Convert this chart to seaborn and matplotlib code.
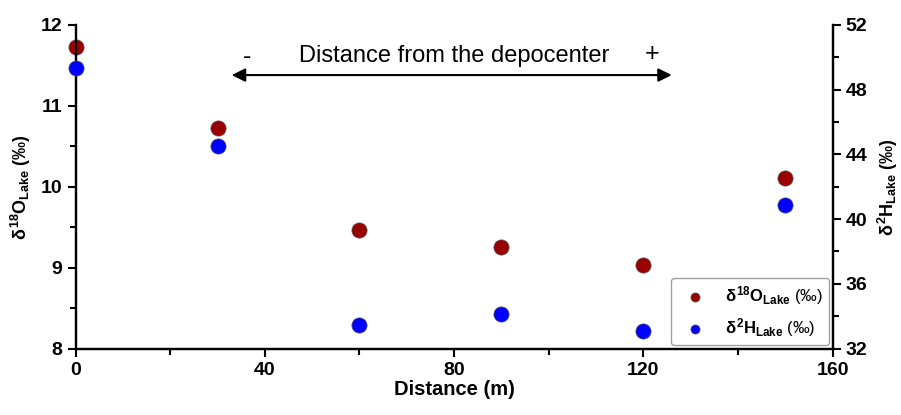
import matplotlib
matplotlib.use('Agg')
import matplotlib.pyplot as plt
from matplotlib.ticker import MultipleLocator
import seaborn as sns

distance = [0, 30, 60, 90, 120, 150]
d18o_lake = [11.73, 10.73, 9.46, 9.26, 9.03, 10.11]
d2h_lake = [49.35, 44.5, 33.45, 34.15, 33.1, 40.9]

sns.set_style('white')
plt.rcParams['font.family'] = ['Liberation Sans', 'DejaVu Sans']
plt.rcParams['text.color'] = 'black'
plt.rcParams['axes.labelcolor'] = 'black'
plt.rcParams['xtick.color'] = 'black'
plt.rcParams['ytick.color'] = 'black'
plt.rcParams['mathtext.fontset'] = 'custom'
plt.rcParams['mathtext.rm'] = 'Liberation Sans:bold'
plt.rcParams['mathtext.it'] = 'Liberation Sans:bold'
plt.rcParams['mathtext.bf'] = 'Liberation Sans:bold'

red = '#990000'
blue = '#0000ff'

fig, ax = plt.subplots(figsize=(9.01, 4.15), dpi=100)
fig.subplots_adjust(left=0.084, right=0.924, top=0.94, bottom=0.16)
ax2 = ax.twinx()

sns.scatterplot(x=distance, y=d18o_lake, ax=ax, color=red, s=120,
                edgecolor='#555555', linewidth=0.5, clip_on=False, zorder=5,
                label=r'$\delta^{18}O_{Lake}$ (‰)', legend=False)
sns.scatterplot(x=distance, y=d2h_lake, ax=ax2, color=blue, s=120,
                edgecolor='#555555', linewidth=0.5, clip_on=False, zorder=5,
                label=r'$\delta^{2}H_{Lake}$ (‰)', legend=False)

ax.set_xlim(0, 160)
ax.set_ylim(8, 12)
ax2.set_ylim(32, 52)

ax.xaxis.set_major_locator(MultipleLocator(40))
ax.xaxis.set_minor_locator(MultipleLocator(20))
ax.yaxis.set_major_locator(MultipleLocator(1))
ax.yaxis.set_minor_locator(MultipleLocator(0.5))
ax2.yaxis.set_major_locator(MultipleLocator(4))
ax2.yaxis.set_minor_locator(MultipleLocator(2))

for a in (ax, ax2):
    for side in ['left', 'right', 'bottom']:
        a.spines[side].set_linewidth(1.6)
        a.spines[side].set_color('black')
    a.spines['top'].set_visible(False)
    a.tick_params(which='major', direction='out', length=6, width=1.5,
                  labelsize=14, color='black', labelcolor='black')
    a.tick_params(which='minor', direction='out', length=4, width=1.5,
                  color='black')
    for lbl in a.get_xticklabels() + a.get_yticklabels():
        lbl.set_fontweight('bold')
ax.tick_params(axis='x', which='both', bottom=True)
ax.tick_params(axis='y', which='both', left=True)
ax2.tick_params(axis='y', which='both', right=True)

ax.set_xlabel('Distance (m)', fontsize=14.5, fontweight='bold', labelpad=1)
ax.set_ylabel(r'$\delta^{18}O_{Lake}$ (‰)', fontsize=13, fontweight='bold', labelpad=6)
ax2.set_ylabel(r'$\delta^{2}H_{Lake}$ (‰)', fontsize=13, fontweight='bold',
               rotation=90, labelpad=6)

# depocenter arrow annotation
ax.annotate('', xy=(33, 11.38), xytext=(126, 11.38),
            arrowprops=dict(arrowstyle='<|-|>', color='black', lw=1.5,
                            mutation_scale=20, shrinkA=0, shrinkB=0))
ax.text(80, 11.62, 'Distance from the depocenter', ha='center', va='center',
        fontsize=17)
ax.text(36.2, 11.6, '-', ha='center', va='center', fontsize=18)
ax.text(121.9, 11.64, '+', ha='center', va='center', fontsize=18)

h1, l1 = ax.get_legend_handles_labels()
h2, l2 = ax2.get_legend_handles_labels()
leg = ax2.legend(h1 + h2, l1 + l2, loc='lower right', fontsize=12,
                 markerscale=0.6, frameon=True, fancybox=True,
                 edgecolor='#888888', borderaxespad=0.2, handletextpad=0.8)
leg.get_frame().set_linewidth(1.0)

fig.savefig('out.png', dpi=100)
